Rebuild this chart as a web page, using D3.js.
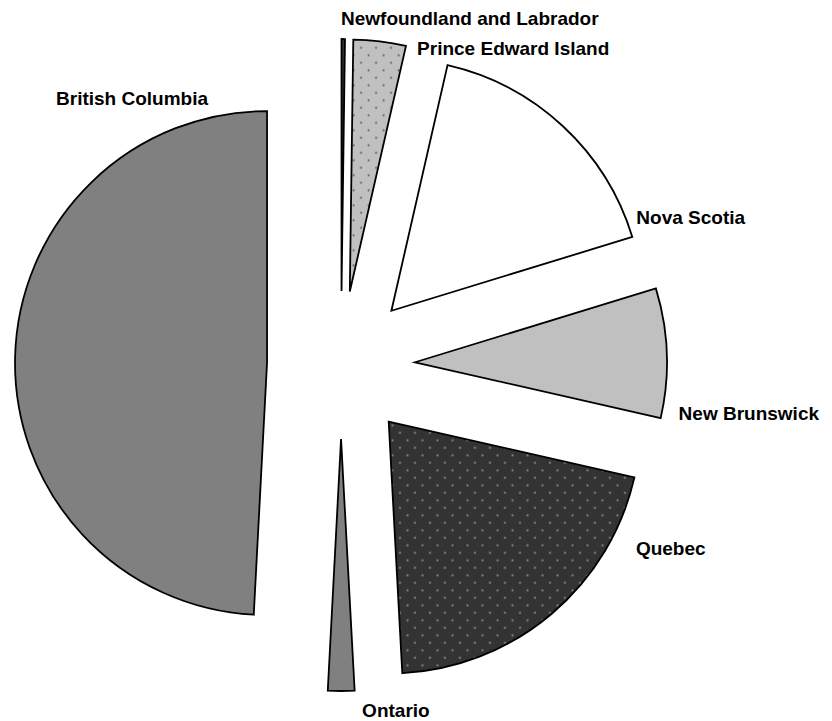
<!DOCTYPE html>
<html>
<head>
<meta charset="utf-8">
<script src="https://cdn.jsdelivr.net/npm/d3@7"></script>
<style>
  body { margin: 0; background: #fff; }
  .label { font-family: "Liberation Sans", Arial, sans-serif; font-weight: bold; font-size: 19px; fill: #000; }
  .slice { stroke: #000; stroke-width: 1.8; stroke-linejoin: miter; }
</style>
</head>
<body>
<div id="chart"></div>
<script>
// --- data ---
const provinces = ["Newfoundland and Labrador", "Prince Edward Island", "Nova Scotia", "New Brunswick", "Quebec", "Ontario", "British Columbia"];
const shares = [0.22, 3.36, 16.7, 8.3, 20.6, 1.7, 49.2];

// fills per slice (pattern ids where dotted)
const fills = ["#333333", "url(#dots-light)", "#ffffff", "#c0c0c0", "url(#dots-dark)", "#808080", "#808080"];

// label placement: angle (deg, clockwise from top) and distance from pie centre
const labelAngle = [0, 13.5, 63.5, 98.1, 121.8, 176.5, 333.5];
const labelDist = [347, 326, 330, 341, 347, 346, 298];

const W = 832, H = 721;
const cx = 341, cy = 365;
const radius = 252, explode = 74;

const svg = d3.select("#chart").append("svg")
    .attr("width", W).attr("height", H);

// --- patterns ---
const defs = svg.append("defs");
function dotPattern(id, bg, dot) {
    const p = defs.append("pattern").attr("id", id)
        .attr("patternUnits", "userSpaceOnUse").attr("width", 15).attr("height", 15);
    p.append("rect").attr("width", 15).attr("height", 15).attr("fill", bg);
    p.append("circle").attr("cx", 3.75).attr("cy", 3.75).attr("r", 1).attr("fill", dot);
    p.append("circle").attr("cx", 11.25).attr("cy", 11.25).attr("r", 1).attr("fill", dot);
}
dotPattern("dots-light", "#c0c0c0", "#555555");
dotPattern("dots-dark", "#333333", "#999999");

const g = svg.append("g").attr("transform", `translate(${cx},${cy})`);

const pie = d3.pie().sort(null).value(d => d).startAngle(0).endAngle(2 * Math.PI);
const arc = d3.arc().innerRadius(0).outerRadius(radius);
const arcs = pie(shares);

g.selectAll("path.slice").data(arcs).enter().append("path")
    .attr("class", "slice")
    .attr("fill", (d, i) => fills[i])
    .attr("transform", d => {
        const mid = (d.startAngle + d.endAngle) / 2;
        return `translate(${explode * Math.sin(mid)},${-explode * Math.cos(mid)})`;
    })
    .attr("d", arc);

// --- labels ---
g.selectAll("text.label").data(provinces).enter().append("text")
    .attr("class", "label")
    .attr("x", (d, i) => labelDist[i] * Math.sin(labelAngle[i] * Math.PI / 180))
    .attr("y", (d, i) => -labelDist[i] * Math.cos(labelAngle[i] * Math.PI / 180))
    .attr("dy", "0.35em")
    .attr("text-anchor", (d, i) => labelAngle[i] > 270 ? "end" : "start")
    .text(d => d);
</script>
</body>
</html>
